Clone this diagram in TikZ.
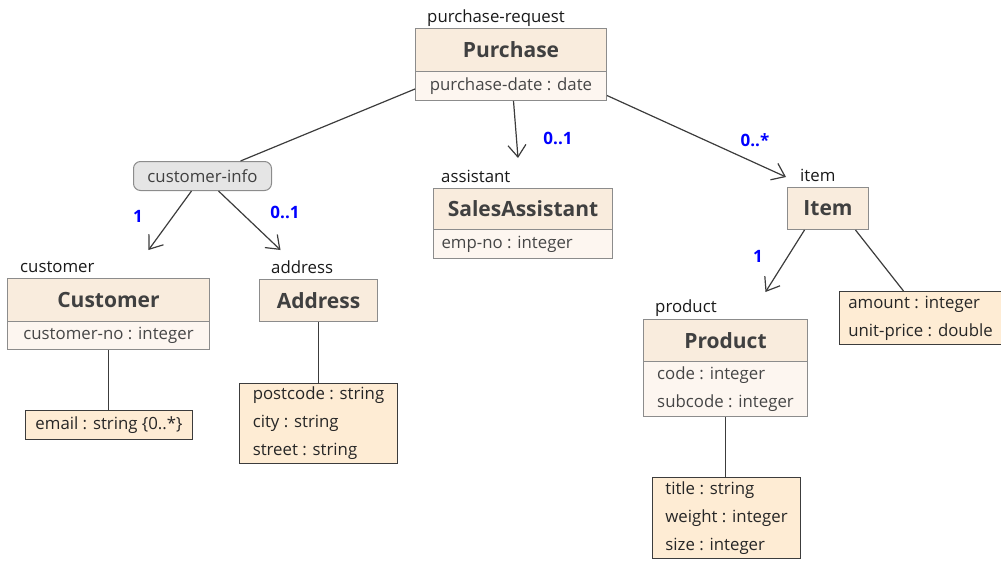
\documentclass[tikz,border=0pt]{standalone}
\usepackage{fontspec}
\setmainfont{Open Sans}
\usetikzlibrary{arrows.meta,calc}
\definecolor{headfill}{RGB}{249,236,221}
\definecolor{rowfill}{RGB}{253,246,240}
\definecolor{attrfill}{RGB}{254,236,212}
\definecolor{boxline}{RGB}{140,140,140}
\definecolor{darkline}{RGB}{60,60,60}
\definecolor{txt}{RGB}{64,64,64}
\definecolor{multblue}{RGB}{0,0,255}
\tikzset{
  x=1pt, y=-1pt,
  box/.style={draw=boxline, line width=1pt, inner sep=0pt, anchor=north west, text=txt},
  classhead/.style={box, fill=headfill, font=\fontsize{21}{24}\selectfont\bfseries},
  classrow/.style={box, fill=rowfill, align=left, font=\fontsize{16.8}{28}\selectfont, text=txt!90!gray},
  attrbox/.style={draw=darkline, line width=1pt, fill=attrfill, inner sep=0pt, anchor=north west, align=left, font=\fontsize{16.8}{28}\selectfont, text=black!85},
  role/.style={anchor=base west, inner sep=0pt, font=\fontsize{16.8}{18}\selectfont, text=black!90},
  mult/.style={text=multblue, font=\fontsize{17}{18}\selectfont\bfseries, inner sep=0pt},
  conn/.style={draw=darkline, line width=1.2pt},
  assoc/.style={conn, -{Straight Barb[length=12pt,width=18pt,line width=1.2pt]}},
}
\begin{document}
\begin{tikzpicture}
\useasboundingbox (0,0) rectangle (1001,560);
% Purchase
\node[classhead, minimum width=191, minimum height=43] (phead) at (415,28) {Purchase};
\node[classrow, minimum width=191, minimum height=29] (pattr) at (415,71) {purchase-date : date};
\node[role] (prole) at (427,22) {purchase-request};
% customer-info
\node[draw=boxline, line width=1pt, fill=black!10, rounded corners=7pt, minimum width=138, minimum height=29, inner sep=0pt, anchor=north west, text=txt, font=\fontsize{16.8}{18}\selectfont] (cinfo) at (133,161) {customer-info};
% Customer
\node[classhead, minimum width=202, minimum height=43] (chead) at (7,278) {Customer};
\node[classrow, minimum width=202, minimum height=28] (cattr) at (7,321) {customer-no : integer};
\node[role] (crole) at (20,272) {customer};
\node[attrbox, minimum width=167, minimum height=29] (email) at (25,410) {email : string \{0..*\}};
% Address
\node[classhead, minimum width=118, minimum height=42] (ahead) at (259,279) {Address};
\node[role] (arole) at (271,273) {address};
\node[attrbox, minimum width=158, minimum height=80] (aattr) at (239,383) {postcode : string\\city : string\\street : string};
% SalesAssistant
\node[classhead, minimum width=179, minimum height=41] (shead) at (433,188) {SalesAssistant};
\node[classrow, minimum width=179, minimum height=29] (sattr) at (433,229) {\makebox[163pt][l]{emp-no : integer}};
\node[role] (srole) at (441,182) {assistant};
% Item
\node[classhead, minimum width=81, minimum height=42] (ihead) at (787,187) {Item};
\node[role] (irole) at (800,181) {item};
\node[attrbox, minimum width=162, minimum height=53] (iattr) at (839,291) {amount : integer\\unit-price : double};
% Product
\node[classhead, minimum width=164, minimum height=42] (prhead) at (643,319) {Product};
\node[classrow, minimum width=164, minimum height=55] (prattr) at (643,361) {code : integer\\subcode : integer};
\node[role] (prrole) at (655,312) {product};
\node[attrbox, minimum width=148, minimum height=81] (prattrs) at (652,477) {title : string\\weight : integer\\size : integer};
% connectors
\draw[conn] ($(pattr.west)+(0,3)$) -- ($(cinfo.north)+(38,0)$);
\draw[assoc] ($(cinfo.south)+(-11,0)$) -- ($(chead.north)+(40,-28)$);
\draw[assoc] ($(cinfo.south)+(16,0)$) -- ($(ahead.north)+(-38,-29)$);
\draw[assoc] ($(pattr.south)+(2.5,0)$) -- ($(shead.north)+(-5,-30)$);
\draw[assoc] ($(pattr.east)+(0,9.5)$) -- ($(ihead.north)+(-42,-10)$);
\draw[assoc] ($(ihead.south)+(-23.5,0)$) -- ($(prhead.north)+(40,-27)$);
\draw[conn] ($(ihead.south)+(27.5,0)$) -- ($(iattr.north)+(-17,0)$);
\draw[conn] (cattr.south) -- (cattr.south |- email.north);
\draw[conn] (ahead.south) -- (ahead.south |- aattr.north);
\draw[conn] (prattr.south) -- (prattr.south |- prattrs.north);
% multiplicities
\node[mult] (m1) at (138,216) {1};
\node[mult] (m2) at (285,212) {0..1};
\node[mult] (m3) at (558,138) {0..1};
\node[mult] (m4) at (755,140) {0..*};
\node[mult] (m5) at (758,256) {1};
\end{tikzpicture}
\end{document}
